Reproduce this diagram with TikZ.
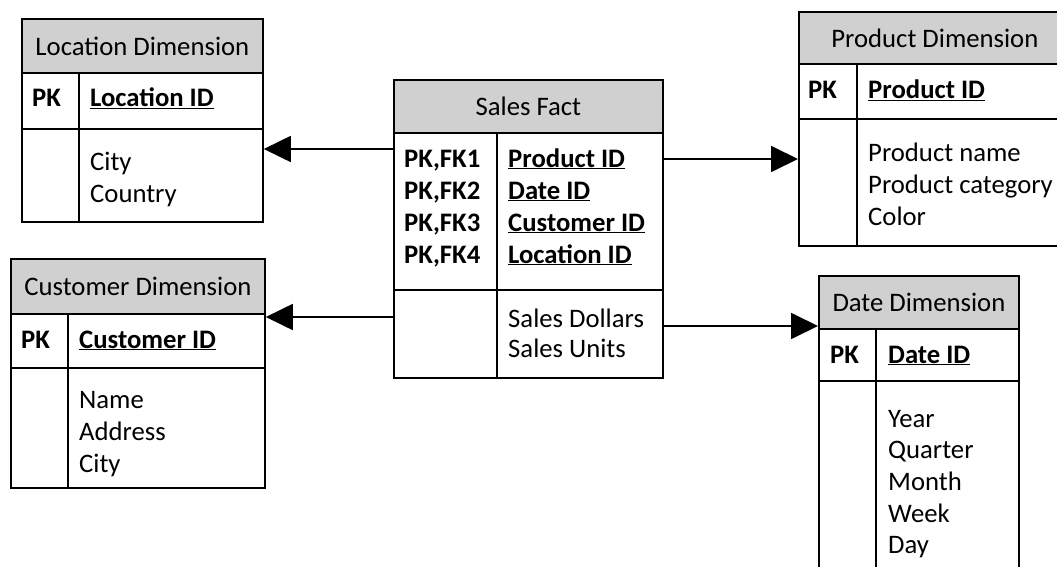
\documentclass[tikz,border=0pt]{standalone}
\usepackage{fontspec}
\setmainfont{Carlito}
\usepackage{xcolor}
\usepackage{tikz}
\usetikzlibrary{arrows.meta}

\definecolor{headgray}{RGB}{208,208,208}
\newcommand{\keyname}[1]{\underline{\textbf{#1}}}

\tikzset{
  cell/.style={draw, line width=1.8pt, inner sep=0pt, anchor=north west},
  headcell/.style={cell, fill=headgray},
  txt/.style={anchor=base west, inner sep=0pt},
  fk/.style={line width=1.8pt, -{Triangle[length=27pt,width=26pt]}}
}

\begin{document}
\begin{tikzpicture}[x=1pt,y=-1pt,font=\fontsize{26.7}{32}\selectfont]
\useasboundingbox (0,0) rectangle (1057,567);
\clip (0,0) rectangle (1057,567);

% Location Dimension
\node[headcell, minimum width=241pt, minimum height=54pt] (lochead) at (21,18) {Location Dimension};
\node[cell, minimum width=241pt, minimum height=56pt] (lockey) at (21,72) {};
\node[cell, minimum width=241pt, minimum height=93pt] (locattr) at (21,128) {};
\draw[line width=1.8pt] (lockey.north west -| 79,0) -- (locattr.south west -| 79,0);
\node[txt] (locpk) at (32,107) {\textbf{PK}};
\node[txt] (locid) at (90,107) {\keyname{Location ID}};
\node[txt] (loccity) at (90,170) {City};
\node[txt] (loccountry) at (90,202) {Country};

% Customer Dimension
\node[headcell, minimum width=254pt, minimum height=55pt] (custhead) at (10,258) {Customer Dimension};
\node[cell, minimum width=254pt, minimum height=54pt] (custkey) at (10,313) {};
\node[cell, minimum width=254pt, minimum height=120pt] (custattr) at (10,367) {};
\draw[line width=1.8pt] (custkey.north west -| 68,0) -- (custattr.south west -| 68,0);
\node[txt] (custpk) at (21,348) {\textbf{PK}};
\node[txt] (custid) at (79,348) {\keyname{Customer ID}};
\node[txt] (custname) at (79,408) {Name};
\node[txt] (custaddr) at (79,440) {Address};
\node[txt] (custcity) at (79,472) {City};

% Sales Fact
\node[headcell, minimum width=269pt, minimum height=53pt] (facthead) at (393,79) {Sales Fact};
\node[cell, minimum width=269pt, minimum height=157pt] (factkey) at (393,132) {};
\node[cell, minimum width=269pt, minimum height=88pt] (factattr) at (393,289) {};
\draw[line width=1.8pt] (factkey.north west -| 497,0) -- (factattr.south west -| 497,0);
\node[txt] (factfka) at (404,167) {\textbf{PK,FK1}};
\node[txt] (factfkb) at (404,199) {\textbf{PK,FK2}};
\node[txt] (factfkc) at (404,231) {\textbf{PK,FK3}};
\node[txt] (factfkd) at (404,263) {\textbf{PK,FK4}};
\node[txt] (factprod) at (508,167) {\keyname{Product ID}};
\node[txt] (factdate) at (508,199) {\keyname{Date ID}};
\node[txt] (factcust) at (508,231) {\keyname{Customer ID}};
\node[txt] (factloc) at (508,263) {\keyname{Location ID}};
\node[txt] (factdollars) at (508,327) {Sales Dollars};
\node[txt] (factunits) at (508,357) {Sales Units};

% Product Dimension
\node[headcell, minimum width=272pt, minimum height=52pt] (prodhead) at (798,11) {Product Dimension};
\node[cell, minimum width=272pt, minimum height=55pt] (prodkey) at (798,63) {};
\node[cell, minimum width=272pt, minimum height=127pt] (prodattr) at (798,118) {};
\draw[line width=1.8pt] (prodkey.north west -| 857,0) -- (prodattr.south west -| 857,0);
\node[txt] (prodpk) at (808,99) {\textbf{PK}};
\node[txt] (prodid) at (868,99) {\keyname{Product ID}};
\node[txt] (prodname) at (868,161) {Product name};
\node[txt] (prodcat) at (868,193) {Product category};
\node[txt] (prodcolor) at (868,225) {Color};

% Date Dimension
\node[headcell, minimum width=200pt, minimum height=53pt] (datehead) at (818,275) {Date Dimension};
\node[cell, minimum width=200pt, minimum height=52pt] (datekey) at (818,328) {};
\node[cell, minimum width=200pt, minimum height=200pt] (dateattr) at (818,380) {};
\draw[line width=1.8pt] (datekey.north west -| 876,0) -- (dateattr.south west -| 876,0);
\node[txt] (datepk) at (830,363) {\textbf{PK}};
\node[txt] (dateid) at (888,363) {\keyname{Date ID}};
\node[txt] (dateyear) at (888,427) {Year};
\node[txt] (datequarter) at (888,458) {Quarter};
\node[txt] (datemonth) at (888,490) {Month};
\node[txt] (dateweek) at (888,522) {Week};
\node[txt] (dateday) at (888,553) {Day};

% foreign keys
\coordinate (toloc) at (393,149);
\coordinate (tocust) at (393,317);
\coordinate (toprod) at (662,159);
\coordinate (todate) at (662,326);
\draw[fk] (toloc) -- (toloc -| locattr.east);
\draw[fk] (tocust) -- (tocust -| custkey.east);
\draw[fk] (toprod) -- (toprod -| prodattr.west);
\draw[fk] (todate) -- (todate -| datekey.west);
\end{tikzpicture}
\end{document}
